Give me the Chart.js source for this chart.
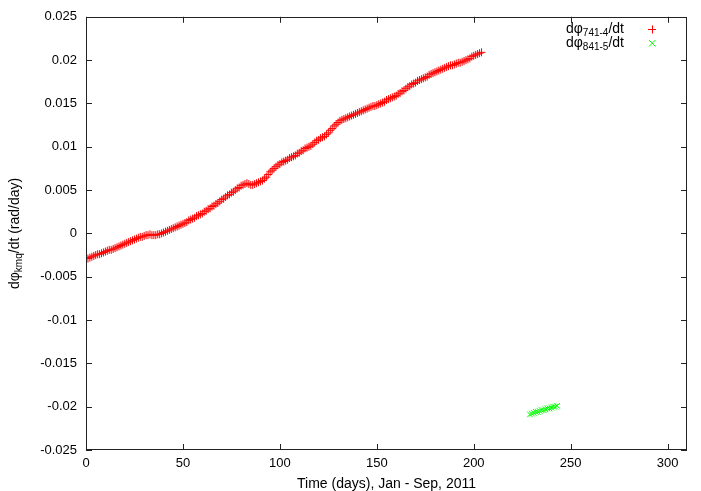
<!DOCTYPE html>
<html>
<head>
<meta charset="utf-8">
<script src="https://cdn.jsdelivr.net/npm/chart.js@4.4.0/dist/chart.umd.min.js"></script>
<style>
html, body { margin: 0; padding: 0; background: #fff; }
canvas { display: block; }
</style>
</head>
<body>
<canvas id="chartCanvas" width="701" height="491"></canvas>
<script>
// d(phi 741-4)/dt, one value per day
const redDays = [0, 1, 2, 3, 4, 5, 6, 7, 8, 9, 10, 11, 12, 13, 14, 15, 16, 17, 18, 19,
    20, 21, 22, 23, 24, 25, 26, 27, 28, 29, 30, 31, 32, 33, 34, 35, 36, 37, 38, 39,
    40, 41, 42, 43, 44, 45, 46, 47, 48, 49, 50, 51, 52, 53, 54, 55, 56, 57, 58, 59,
    60, 61, 62, 63, 64, 65, 66, 67, 68, 69, 70, 71, 72, 73, 74, 75, 76, 77, 78, 79,
    80, 81, 82, 83, 84, 85, 86, 87, 88, 89, 90, 91, 92, 93, 94, 95, 96, 97, 98, 99,
    100, 101, 102, 103, 104, 105, 106, 107, 108, 109, 110, 111, 112, 113, 114, 115, 116, 117, 118, 119,
    120, 121, 122, 123, 124, 125, 126, 127, 128, 129, 130, 131, 132, 133, 134, 135, 136, 137, 138, 139,
    140, 141, 142, 143, 144, 145, 146, 147, 148, 149, 150, 151, 152, 153, 154, 155, 156, 157, 158, 159,
    160, 161, 162, 163, 164, 165, 166, 167, 168, 169, 170, 171, 172, 173, 174, 175, 176, 177, 178, 179,
    180, 181, 182, 183, 184, 185, 186, 187, 188, 189, 190, 191, 192, 193, 194, 195, 196, 197, 198, 199,
    200, 201, 202, 203, 204];
const redRates = [
    -0.0029, -0.0029, -0.0028, -0.0027, -0.0026, -0.0025, -0.0024, -0.0024, -0.0023, -0.0022,
    -0.0021, -0.0020, -0.0019, -0.0019, -0.0018, -0.0017, -0.0016, -0.0015, -0.0014, -0.0013,
    -0.0012, -0.0011, -0.0010, -0.0009, -0.0008, -0.0007, -0.0006, -0.0005, -0.0004, -0.0004,
    -0.0003, -0.0002, -0.0002, -0.0001, -0.0002, -0.0002, -0.0002, -0.0001, -0.0001, 0.0000,
    0.0001, 0.0002, 0.0003, 0.0004, 0.0005, 0.0006, 0.0007, 0.0008, 0.0009, 0.0010,
    0.0011, 0.0012, 0.0013, 0.0015, 0.0016, 0.0017, 0.0018, 0.0020, 0.0021, 0.0022,
    0.0023, 0.0025, 0.0026, 0.0028, 0.0029, 0.0031, 0.0032, 0.0034, 0.0035, 0.0037,
    0.0039, 0.0040, 0.0042, 0.0044, 0.0045, 0.0047, 0.0048, 0.0050, 0.0052, 0.0053,
    0.0055, 0.0056, 0.0057, 0.0058, 0.0057, 0.0056, 0.0056, 0.0057, 0.0058, 0.0059,
    0.0060, 0.0061, 0.0063, 0.0065, 0.0068, 0.0071, 0.0073, 0.0075, 0.0077, 0.0079,
    0.0080, 0.0082, 0.0083, 0.0084, 0.0085, 0.0087, 0.0088, 0.0089, 0.0090, 0.0092,
    0.0093, 0.0095, 0.0096, 0.0098, 0.0099, 0.0100, 0.0101, 0.0103, 0.0105, 0.0107,
    0.0108, 0.0110, 0.0111, 0.0112, 0.0114, 0.0116, 0.0119, 0.0121, 0.0124, 0.0126,
    0.0128, 0.0130, 0.0131, 0.0132, 0.0133, 0.0134, 0.0135, 0.0136, 0.0137, 0.0138,
    0.0139, 0.0140, 0.0141, 0.0142, 0.0143, 0.0144, 0.0145, 0.0146, 0.0147, 0.0147,
    0.0148, 0.0149, 0.0150, 0.0151, 0.0152, 0.0154, 0.0155, 0.0156, 0.0157, 0.0158,
    0.0159, 0.0161, 0.0162, 0.0164, 0.0165, 0.0167, 0.0169, 0.0170, 0.0172, 0.0173,
    0.0174, 0.0176, 0.0177, 0.0178, 0.0179, 0.0180, 0.0181, 0.0183, 0.0184, 0.0185,
    0.0186, 0.0187, 0.0188, 0.0189, 0.0190, 0.0191, 0.0192, 0.0193, 0.0194, 0.0194,
    0.0195, 0.0196, 0.0197, 0.0197, 0.0198, 0.0199, 0.0200, 0.0201, 0.0202, 0.0204,
    0.0205, 0.0206, 0.0207, 0.0208, 0.0209];

// d(phi 841-5)/dt
const greenDays = [229, 230, 231, 232, 233, 234, 235, 236, 237, 238, 239, 240, 241, 242, 243];
const greenRates = [-0.0209, -0.0208, -0.0207, -0.0206, -0.0206, -0.0205, -0.0204, -0.0204,
    -0.0203, -0.0202, -0.0202, -0.0201, -0.0200, -0.0200, -0.0199];

const xTickValues = [0, 50, 100, 150, 200, 250, 300];

const FONT = '"Liberation Sans", Arial, Helvetica, sans-serif';

function toPoints(xs, ys) {
    return xs.map((x, i) => ({ x: x, y: ys[i] }));
}

// text with subscripts: parts = [[text, isSub], ...]
function drawRich(ctx, parts, x, y, align) {
    const big = '14px ' + FONT;
    const small = '10px ' + FONT;
    let total = 0;
    parts.forEach(p => {
        ctx.font = p[1] ? small : big;
        total += ctx.measureText(p[0]).width;
    });
    let cx = x;
    if (align === 'right') cx = x - total;
    if (align === 'center') cx = x - total / 2;
    ctx.textAlign = 'left';
    ctx.textBaseline = 'alphabetic';
    parts.forEach(p => {
        ctx.font = p[1] ? small : big;
        ctx.fillText(p[0], cx, p[1] ? y + 3 : y);
        cx += ctx.measureText(p[0]).width;
    });
}

const framePlugin = {
    id: 'frame',
    afterDraw(chart) {
        const ctx = chart.ctx;
        const a = chart.chartArea;
        const xs = chart.scales.x;
        const ys = chart.scales.y;
        ctx.save();
        ctx.strokeStyle = '#222';
        ctx.lineWidth = 1;
        ctx.strokeRect(Math.round(a.left) + 0.5, Math.round(a.top) + 0.5,
            Math.round(a.right - a.left) - 1, Math.round(a.bottom - a.top) - 1);

        ctx.beginPath();
        xs.ticks.forEach(t => {
            const px = Math.round(xs.getPixelForValue(t.value)) + 0.5;
            ctx.moveTo(px, a.bottom);
            ctx.lineTo(px, a.bottom - 6);
            ctx.moveTo(px, a.top);
            ctx.lineTo(px, a.top + 6);
        });
        ys.ticks.forEach(t => {
            const py = Math.round(ys.getPixelForValue(t.value)) + 0.5;
            ctx.moveTo(a.left, py);
            ctx.lineTo(a.left + 6, py);
            ctx.moveTo(a.right, py);
            ctx.lineTo(a.right - 6, py);
        });
        ctx.stroke();

        ctx.fillStyle = '#000';
        // x title
        drawRich(ctx, [['Time (days), Jan - Sep, 2011', false]], (a.left + a.right) / 2, 488, 'center');

        // y title, rotated
        ctx.save();
        ctx.translate(19, (a.top + a.bottom) / 2);
        ctx.rotate(-Math.PI / 2);
        drawRich(ctx, [['d\u03c6', false], ['kmq', true], ['/dt (rad/day)', false]], 0, 0, 'center');
        ctx.restore();

        // legend
        drawRich(ctx, [['d\u03c6', false], ['741-4', true], ['/dt', false]], 624, 33, 'right');
        drawRich(ctx, [['d\u03c6', false], ['841-5', true], ['/dt', false]], 624, 47, 'right');
        ctx.lineWidth = 1;
        ctx.strokeStyle = '#ff0000';
        ctx.beginPath();
        ctx.moveTo(648, 29.5); ctx.lineTo(656, 29.5);
        ctx.moveTo(652.5, 25.5); ctx.lineTo(652.5, 33.5);
        ctx.stroke();
        ctx.strokeStyle = '#00ff00';
        ctx.beginPath();
        ctx.moveTo(649, 40); ctx.lineTo(655.5, 46.5);
        ctx.moveTo(655.5, 40); ctx.lineTo(649, 46.5);
        ctx.stroke();
        ctx.restore();
    }
};

const chart = new Chart(document.querySelector('#chartCanvas'), {
    type: 'scatter',
    data: {
        datasets: [
            {
                label: 'd\u03c6741-4/dt',
                data: toPoints(redDays, redRates),
                pointStyle: 'cross',
                pointRadius: 4,
                pointBorderWidth: 1,
                borderColor: '#ff0000',
                backgroundColor: '#ff0000',
                showLine: false
            },
            {
                label: 'd\u03c6841-5/dt',
                data: toPoints(greenDays, greenRates),
                pointStyle: 'crossRot',
                pointRadius: 4,
                pointBorderWidth: 1,
                borderColor: '#00ff00',
                backgroundColor: '#00ff00',
                showLine: false
            }
        ]
    },
    options: {
        responsive: false,
        animation: false,
        layout: { padding: { top: 16, right: 14, left: 0, bottom: 0 } },
        plugins: {
            legend: { display: false },
            tooltip: { enabled: false },
            title: { display: false }
        },
        scales: {
            x: {
                type: 'linear',
                min: 0,
                max: 310,
                afterBuildTicks: (scale) => {
                    scale.ticks = xTickValues.map(v => ({ value: v }));
                },
                afterFit: (scale) => { scale.height = 41; },
                grid: { display: false, drawTicks: false },
                border: { display: false },
                ticks: {
                    padding: 6,
                    color: '#000',
                    font: { family: FONT, size: 13 },
                    maxRotation: 0,
                    callback: (v) => String(v)
                }
            },
            y: {
                type: 'linear',
                min: -0.025,
                max: 0.025,
                afterFit: (scale) => { scale.width = 86; },
                grid: { display: false, drawTicks: false },
                border: { display: false },
                ticks: {
                    stepSize: 0.005,
                    padding: 9,
                    color: '#000',
                    font: { family: FONT, size: 13 },
                    callback: (v) => String(parseFloat(Number(v).toFixed(3)))
                }
            }
        }
    },
    plugins: [framePlugin]
});
</script>
</body>
</html>
